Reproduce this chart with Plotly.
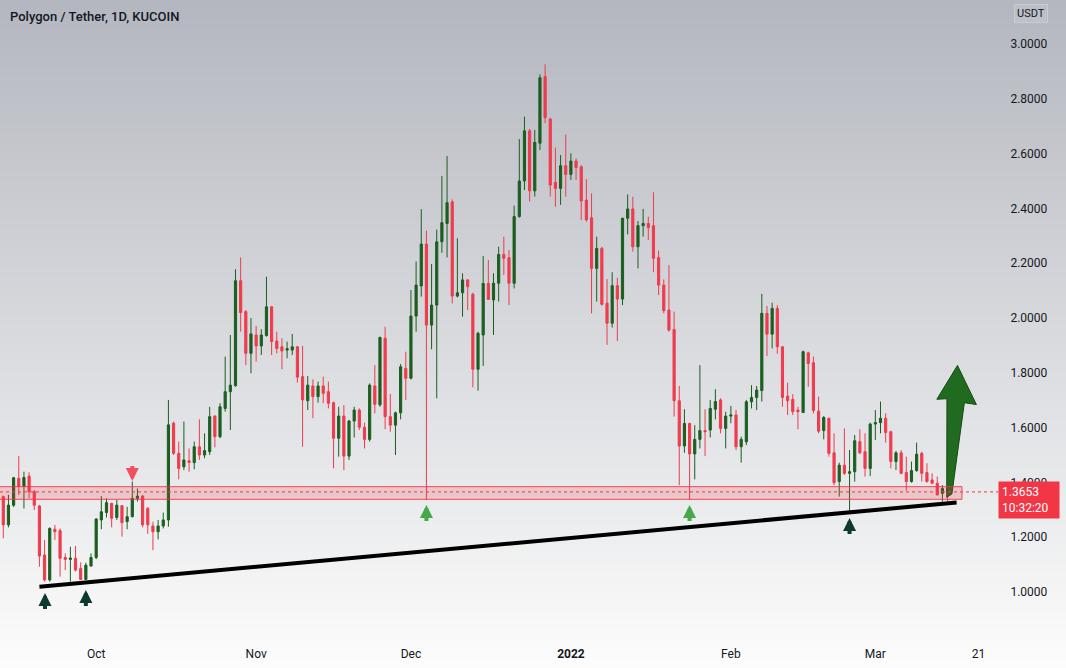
import plotly.graph_objects as go
import pandas as pd

# ---------------- data ----------------
start_date = "2021-09-13"
opens = [1.348,1.245,1.317,1.415,1.385,1.423,1.366,1.314,1.135,1.044,1.229,1.224,1.126,1.119,1.123,1.086,1.046,1.095,1.126,1.263,1.290,1.323,1.272,1.315,1.257,1.275,1.342,1.350,1.305,1.241,1.220,1.241,
         1.263,1.616,1.506,1.457,1.479,1.472,1.530,1.500,1.512,1.642,1.567,1.670,1.731,1.753,2.136,2.023,1.871,1.938,1.898,1.936,2.041,1.916,1.895,1.883,1.883,1.895,1.786,1.698,1.752,1.713,1.752,1.731,
         1.691,1.561,1.642,1.496,1.624,1.664,1.601,1.557,1.752,1.683,1.926,1.640,1.609,1.654,1.816,1.780,2.007,2.117,2.270,1.974,2.047,2.278,2.345,2.424,2.080,2.092,2.139,2.087,1.813,1.938,2.126,
         2.066,2.127,2.232,2.220,2.127,2.370,2.500,2.683,2.464,2.638,2.881,2.726,2.495,2.473,2.556,2.524,2.573,2.552,2.430,2.366,2.181,2.254,2.054,1.981,2.118,2.069,2.364,2.398,2.260,2.337,2.345,
         2.337,2.221,2.120,2.029,1.958,1.698,1.533,1.615,1.504,1.557,1.589,1.591,1.667,1.701,1.597,1.642,1.646,1.530,1.548,1.694,1.710,1.735,2.017,1.941,2.035,1.895,1.715,1.703,1.664,1.655,1.873,
         1.837,1.660,1.589,1.634,1.508,1.403,1.463,1.433,1.439,1.549,1.512,1.451,1.613,1.618,1.634,1.585,1.476,1.508,1.436,1.403,1.443,1.506,1.436,1.409,1.397,1.360,1.378]
highs = [1.352,1.354,1.420,1.496,1.439,1.437,1.372,1.318,1.190,1.236,1.245,1.232,1.141,1.165,1.168,1.108,1.107,1.141,1.270,1.350,1.342,1.326,1.336,1.317,1.311,1.403,1.378,1.354,1.310,1.257,1.263,1.290,
         1.701,1.622,1.549,1.622,1.524,1.549,1.630,1.579,1.676,1.645,1.689,1.859,1.938,2.178,2.221,2.029,2.000,1.971,1.959,2.151,2.044,1.950,1.926,1.914,1.942,1.898,1.898,1.788,1.776,1.768,1.786,1.768,
         1.695,1.676,1.682,1.628,1.676,1.670,1.618,1.761,1.828,1.932,1.968,1.723,1.658,1.832,1.877,2.102,2.206,2.397,2.319,2.197,2.323,2.518,2.591,2.433,2.291,2.163,2.142,2.092,1.950,2.226,2.212,
         2.163,2.260,2.297,2.248,2.410,2.653,2.735,2.690,2.686,2.889,2.926,2.731,2.622,2.595,2.670,2.601,2.583,2.558,2.507,2.455,2.297,2.260,2.142,2.167,2.147,2.366,2.451,2.443,2.354,2.398,2.370,
         2.459,2.246,2.141,2.193,2.023,1.752,1.667,1.618,1.609,1.828,1.667,1.701,1.740,1.707,1.658,1.679,1.664,1.567,1.701,1.755,1.752,2.088,2.044,2.056,2.047,1.898,1.764,1.722,1.676,1.881,1.877,
         1.859,1.713,1.642,1.637,1.579,1.472,1.597,1.518,1.573,1.594,1.579,1.618,1.664,1.695,1.652,1.589,1.515,1.518,1.494,1.476,1.545,1.512,1.470,1.433,1.421,1.390,1.390]
lows = [1.196,1.236,1.310,1.354,1.305,1.342,1.299,1.092,1.038,1.038,1.190,1.056,1.080,1.038,1.075,1.044,1.044,1.092,1.120,1.229,1.272,1.236,1.263,1.202,1.229,1.272,1.330,1.236,1.212,1.153,1.192,1.232,
        1.238,1.500,1.411,1.445,1.439,1.448,1.482,1.488,1.500,1.528,1.561,1.658,1.591,1.749,1.950,1.828,1.798,1.841,1.865,1.932,1.865,1.871,1.813,1.853,1.865,1.764,1.530,1.664,1.634,1.691,1.689,1.670,
        1.451,1.494,1.445,1.482,1.564,1.591,1.524,1.549,1.652,1.676,1.594,1.585,1.500,1.630,1.701,1.776,1.950,2.078,1.336,1.886,1.707,2.238,2.221,2.053,2.075,2.005,2.029,1.747,1.735,1.825,2.066,
        1.938,2.060,2.157,2.047,2.108,2.366,2.467,2.425,2.443,2.613,2.711,2.443,2.406,2.413,2.443,2.504,2.504,2.358,2.352,2.017,2.060,2.045,1.902,1.965,1.916,2.047,2.305,2.242,2.181,2.297,2.285,
        2.167,2.084,2.017,1.950,1.640,1.390,1.508,1.336,1.411,1.524,1.496,1.564,1.630,1.579,1.524,1.616,1.518,1.472,1.536,1.670,1.664,1.695,1.861,1.889,1.869,1.676,1.646,1.646,1.594,1.654,1.749,
        1.652,1.579,1.557,1.494,1.390,1.348,1.427,1.295,1.403,1.503,1.421,1.423,1.555,1.579,1.545,1.451,1.445,1.430,1.370,1.399,1.439,1.403,1.399,1.394,1.354,1.330,1.330]
closes = [1.245,1.317,1.417,1.385,1.418,1.366,1.317,1.131,1.044,1.232,1.220,1.123,1.119,1.124,1.080,1.046,1.098,1.126,1.266,1.293,1.326,1.269,1.317,1.253,1.275,1.342,1.350,1.245,1.245,1.220,1.241,1.263,
          1.610,1.506,1.451,1.482,1.473,1.530,1.500,1.516,1.640,1.567,1.676,1.731,1.755,2.136,2.020,1.871,1.942,1.898,1.938,2.041,1.914,1.889,1.880,1.888,1.895,1.784,1.701,1.755,1.713,1.752,1.725,1.689,
          1.561,1.642,1.496,1.624,1.664,1.601,1.557,1.755,1.685,1.929,1.640,1.609,1.654,1.822,1.780,2.007,2.120,2.270,1.974,2.047,2.278,2.348,2.421,2.080,2.092,2.139,2.114,1.813,1.944,2.126,2.068,
          2.127,2.232,2.218,2.127,2.370,2.500,2.683,2.464,2.641,2.877,2.731,2.485,2.473,2.556,2.524,2.573,2.549,2.427,2.358,2.181,2.254,2.050,1.981,2.118,2.069,2.364,2.398,2.260,2.337,2.345,2.330,
          2.218,2.120,2.027,1.956,1.698,1.533,1.615,1.504,1.557,1.589,1.585,1.670,1.695,1.597,1.642,1.646,1.530,1.557,1.694,1.710,1.737,2.017,1.941,2.035,1.895,1.710,1.698,1.658,1.658,1.877,1.834,
          1.662,1.587,1.637,1.506,1.399,1.463,1.433,1.439,1.552,1.508,1.451,1.613,1.618,1.634,1.582,1.476,1.508,1.433,1.403,1.443,1.503,1.433,1.403,1.397,1.354,1.378,1.3653]
dates = pd.date_range(start_date, periods=len(closes), freq="D")

last_price = 1.3653
countdown = "10:32:20"
y_ticks = [1.0, 1.2, 1.4, 1.6, 1.8, 2.0, 2.2, 2.4, 2.6, 2.8, 3.0]
x_tickvals = ["2021-10-01", "2021-11-01", "2021-12-01", "2022-01-01", "2022-02-01", "2022-03-01", "2022-03-21"]
x_ticktext = ["Oct", "Nov", "Dec", "<b>2022</b>", "Feb", "Mar", "21"]

# drawings (date, price)
zone_x = ["2021-09-01", "2022-03-17 19:00"]
zone_y = [1.3383, 1.3844]
trend_x = ["2021-09-20 00:00", "2022-03-16 18:00"]
trend_y = [1.0193, 1.3266]
big_arrow_x = ["2022-03-14 20:00", "2022-03-14 21:00", "2022-03-12 22:00", "2022-03-16 22:00",
               "2022-03-20 14:00", "2022-03-18 06:00", "2022-03-15 20:00", "2022-03-14 20:00"]
big_arrow_y = [1.3456, 1.7055, 1.7033, 1.8268, 1.6841, 1.6909, 1.3577, 1.3456]
dark_up_x = ["2021-09-21 02:00", "2021-09-29 00:00", "2022-02-24 00:00"]
dark_up_y = [0.9964, 1.0073, 1.270]
green_up_x = ["2021-12-04 00:00", "2022-01-24 00:00"]
green_up_y = [1.3175, 1.3175]
red_down_x = ["2021-10-08 00:00"]
red_down_y = [1.405]

GREEN = "#1b5e20"
RED = "#ef3b4e"
TXT = "#131722"

fig = go.Figure()
fig.add_trace(go.Candlestick(
    x=dates, open=opens, high=highs, low=lows, close=closes,
    increasing=dict(line=dict(color=GREEN, width=1), fillcolor=GREEN),
    decreasing=dict(line=dict(color=RED, width=1), fillcolor=RED),
    whiskerwidth=0, showlegend=False, hoverinfo="skip"))

fig.add_trace(go.Scatter(
    x=big_arrow_x, y=big_arrow_y, mode="lines", fill="toself",
    fillcolor="#216b21", line=dict(color="#134a13", width=1),
    showlegend=False, hoverinfo="skip"))

shapes = []
# gradient background
n = 70
top = (180, 183, 191)
bot = (252, 252, 252)
fig_h = 668.0
plot_h = 640.0
for i in range(n):
    t = i / (n - 1)
    c = tuple(int(round(top[k] + (bot[k] - top[k]) * t)) for k in range(3))
    py0 = i * fig_h / n
    py1 = (i + 1) * fig_h / n + 1
    shapes.append(dict(type="rect", xref="paper", yref="paper",
                       x0=-0.01, x1=1.08,
                       y0=(plot_h - py1) / plot_h, y1=(plot_h - py0) / plot_h,
                       fillcolor="rgb(%d,%d,%d)" % c, line=dict(width=0), layer="below"))
# zone
shapes.append(dict(type="rect", xref="x", yref="y", x0=zone_x[0], x1=zone_x[1],
                   y0=zone_y[0], y1=zone_y[1], fillcolor="rgba(242,54,69,0.20)",
                   line=dict(color="rgba(242,54,69,0.9)", width=1), layer="above"))
# last price line
shapes.append(dict(type="line", xref="paper", yref="y", x0=0, x1=1, y0=last_price, y1=last_price,
                   line=dict(color="#f23645", width=1, dash="dot"), layer="above"))
# trend line
shapes.append(dict(type="line", xref="x", yref="y", x0=trend_x[0], x1=trend_x[1],
                   y0=trend_y[0], y1=trend_y[1], line=dict(color="#000000", width=4), layer="above"))

annotations = []
def arrow(x, y, color, up=True):
    return dict(x=x, y=y, xref="x", yref="y", text=" ", showarrow=True,
                arrowhead=2, arrowsize=0.65, arrowwidth=4, arrowcolor=color,
                ax=0, ay=(17 if up else -16), standoff=0, borderpad=0,
                font=dict(size=1))
for x, y in zip(dark_up_x, dark_up_y):
    annotations.append(arrow(x, y, "#0d3a2f", True))
for x, y in zip(green_up_x, green_up_y):
    annotations.append(arrow(x, y, "#45a84a", True))
for x, y in zip(red_down_x, red_down_y):
    annotations.append(arrow(x, y, "#f0505f", False))

annotations.append(dict(x=0, y=(plot_h - 16) / plot_h, xref="paper", yref="paper",
                        xanchor="left", yanchor="middle", xshift=8, showarrow=False,
                        text="Polygon / Tether, 1D, KUCOIN",
                        font=dict(family="Roboto", size=13, color=TXT, weight=500)))
annotations.append(dict(x=1, y=last_price, xref="paper", yref="y", xanchor="left", yanchor="top",
                        yshift=11, showarrow=False, text="1.3653<br>" + countdown, align="left",
                        width=54, borderpad=3, bgcolor="#f23645",
                        font=dict(family="Roboto", size=12, color="#ffffff")))
annotations.append(dict(x=1031 / 998, y=(plot_h - 14) / plot_h, xref="paper", yref="paper",
                        xanchor="center", yanchor="middle", showarrow=False, text="USDT",
                        bordercolor="#c9cbd1", borderwidth=1, borderpad=2,
                        bgcolor="rgba(255,255,255,0.12)",
                        font=dict(family="Roboto", size=11, color=TXT)))

fig.update_layout(
    width=1066, height=668,
    margin=dict(l=0, r=68, t=0, b=28, pad=0),
    paper_bgcolor="#fcfcfc", plot_bgcolor="rgba(0,0,0,0)",
    shapes=shapes, annotations=annotations,
    boxgap=0.4, showlegend=False,
    font=dict(family="Roboto", size=12, color=TXT),
)
fig.update_xaxes(
    type="date", range=["2021-09-12 08:40", "2022-03-24 18:30"],
    rangeslider=dict(visible=False), showgrid=False, zeroline=False, showline=False,
    tickvals=x_tickvals, ticktext=x_ticktext, ticks="outside", ticklen=3,
    tickcolor="rgba(0,0,0,0)", tickfont=dict(family="Roboto", size=12, color=TXT))
fig.update_yaxes(
    side="right", range=[0.8248, 3.1606], showgrid=False, zeroline=False, showline=False,
    tickvals=y_ticks, tickformat=".4f", ticks="outside", ticklen=9,
    tickcolor="rgba(0,0,0,0)", tickfont=dict(family="Roboto", size=12, color=TXT))

fig.write_html("out.html")
